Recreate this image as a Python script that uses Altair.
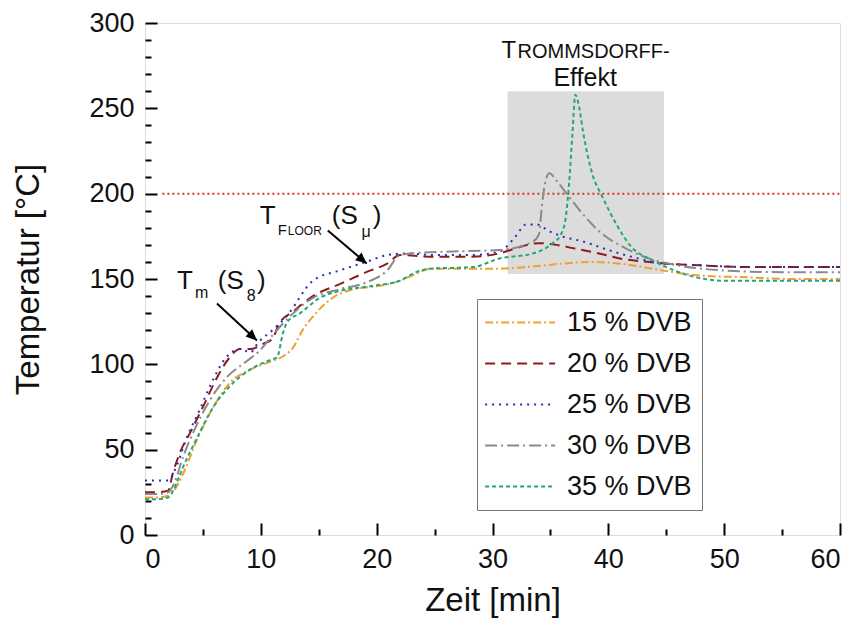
import altair as alt
import pandas as pd

FONT = "Liberation Sans"

series = ["15 % DVB", "20 % DVB", "25 % DVB", "30 % DVB", "35 % DVB"]
colors = ["#f0a032", "#8b1c1c", "#2b2bc0", "#8a8a8a", "#22a878"]
dashes = [[8, 3, 2, 3], [10, 6], [2, 5], [12, 4, 2, 4], [4, 3]]

t15 = [0, 1, 2, 2.5, 3.3, 4.5, 5.9, 7.3, 9.1, 11, 12, 12.8, 13.6, 14.5, 16.2, 18, 20.3, 22, 23.4, 24.6, 27, 30, 33, 36, 38.4, 41, 44.7, 48, 52, 56, 60]
T15 = [22, 22, 23, 26, 36, 56, 75, 89, 97, 102, 105, 110, 120, 128, 139, 144, 146, 149, 153, 156, 156, 156, 157, 159, 160, 159, 155, 152, 151, 150, 150]

t20 = [0, 1, 2, 2.4, 3, 3.9, 5, 6.2, 7.3, 8.2, 9.1, 10.2, 11, 11.6, 12.8, 14.5, 16.8, 19.1, 20.9, 22, 25, 28, 30.6, 32, 33, 34, 35.5, 37, 39.2, 41, 43.5, 45, 48, 52, 56, 60]
T20 = [25, 25, 26, 36, 48, 60, 75, 92, 104, 109, 109, 112, 115, 124, 131, 140, 147, 154, 159, 164, 163, 163, 165, 168, 170, 171, 170, 168, 165, 162, 160, 159, 158, 157, 157, 157]

t25 = [0, 1, 2, 2.7, 3.6, 4.7, 5.6, 7, 8.2, 9.1, 9.8, 11, 12.2, 14.5, 16.8, 19.1, 20.9, 22.6, 25, 28, 30.6, 32, 32.9, 33.8, 34.9, 36, 37.8, 40, 42, 45, 48, 52, 56, 60]
T25 = [32, 32, 32, 40, 57, 73, 87, 104, 109, 107, 113, 120, 128, 149, 155, 160, 164, 165, 164, 164, 166, 175, 182, 182, 178, 175, 172, 167, 163, 159, 158, 157, 157, 157]

t30 = [0, 1, 2, 2.5, 3.3, 4.5, 5.6, 7, 8.8, 9.9, 11, 12.5, 14.5, 16.8, 19.1, 20.9, 22, 23, 26, 30.6, 33.5, 34, 34.3, 34.6, 34.9, 35.6, 36.4, 37.8, 39.2, 41.5, 43.5, 46, 50, 55, 60]
T30 = [24, 24, 25, 30, 46, 65, 79, 92, 102, 108, 117, 128, 139, 144, 148, 155, 164, 165, 166, 167, 172, 176, 195, 208, 212, 207, 200, 188, 178, 168, 162, 158, 155, 154, 154]

t35 = [0, 1, 2, 2.5, 3.3, 4.5, 5.9, 7.3, 9.1, 11, 11.4, 11.9, 12.3, 13.4, 15.1, 16.8, 19.7, 22, 23.4, 24.6, 28.3, 30.6, 33.5, 35.2, 35.9, 36.3, 36.6, 36.9, 37.15, 37.5, 37.8, 38.6, 39.5, 40.7, 42.1, 43.5, 45, 47, 50, 55, 60]
T35 = [21, 21, 22, 27, 40, 57, 75, 87, 97, 103, 104, 118, 125, 130, 139, 143, 146, 149, 154, 156, 157, 162, 165, 171, 176, 185, 205, 235, 258, 250, 237, 212, 198, 182, 168, 162, 157, 152, 149, 149, 149]

all_t = [t15, t20, t25, t30, t35]
all_T = [T15, T20, T25, T30, T35]

# reference line and shaded region
ref_t = [1.5, 60]
ref_T = [200, 200]
box_t = [31.3, 44.8]
box_T = [153, 260]

# axis ticks
x_major = [0, 10, 20, 30, 40, 50, 60]
x_minor = [5, 15, 25, 35, 45, 55]
y_major = [0, 50, 100, 150, 200, 250, 300]
y_minor = [v for v in range(10, 300, 10) if v % 50 != 0]

# annotations (text pieces)
ann_text = ["T", "ROMMSDORFF-", "Effekt",
            "T", "F", "LOOR", "(S", "\u03bc", ")",
            "T", "m", "(S", "8", ")"]
ann_t = [30.78, 32.16, 38.0,
         9.91, 11.47, 12.33, 16.12, 18.7, 19.66,
         2.76, 4.31, 6.29, 8.79, 9.66]
ann_T = [279.5, 279.5, 263.2,
         182.5, 176.0, 176.0, 182.5, 174.9, 182.5,
         144.4, 138.6, 144.4, 137.4, 144.4]
ann_size = [24, 20, 25,
            26, 15, 12, 26, 16, 26,
            26, 16, 26, 16, 26]
ann_align = ["left", "left", "center",
             "left", "left", "left", "left", "left", "left",
             "left", "left", "left", "left", "left"]

# arrows
arr_t1 = [6.21, 15.78]
arr_T1 = [135.7, 178.4]
arr_t2 = [9.66, 19.14]
arr_T2 = [114.0, 159.1]
arr_angle = [133, 130]

rows = []
for name, ts, Ts in zip(series, all_t, all_T):
    for i, (a, b) in enumerate(zip(ts, Ts)):
        rows.append({"series": name, "t": a, "T": b, "order": i})
df = pd.DataFrame(rows)

xs = alt.Scale(domain=[0, 60], nice=False, zero=False)
ys = alt.Scale(domain=[0, 300], nice=False, zero=False)

W, H = 695, 512

main_x_axis = alt.Axis(values=x_major, ticks=False, domain=False, grid=False,
                       labelFontSize=27, labelFont=FONT, labelColor="#111",
                       labelPadding=11, title="Zeit [min]", titleFontSize=33,
                       titleFont=FONT, titleFontWeight="normal", titleColor="#111",
                       titlePadding=12, orient="bottom")
main_y_axis = alt.Axis(values=y_major, ticks=False, domain=False, grid=False,
                       labelFontSize=27, labelFont=FONT, labelColor="#111",
                       labelPadding=11, title="Temperatur [°C]", titleFontSize=33,
                       titleFont=FONT, titleFontWeight="normal", titleColor="#111",
                       titlePadding=43, orient="left")

def tick_axis_x(vals, size):
    return alt.Axis(values=vals, orient="top", offset=-H, tickSize=size, tickWidth=2,
                    tickColor="black", labels=False, domain=False, grid=False, title=None)

def tick_axis_y(vals, size):
    return alt.Axis(values=vals, orient="right", offset=-W, tickSize=size, tickWidth=2,
                    tickColor="black", labels=False, domain=False, grid=False, title=None)

box_df = pd.DataFrame({"t1": [box_t[0]], "t2": [box_t[1]], "T1": [box_T[0]], "T2": [box_T[1]]})
box = alt.Chart(box_df).mark_rect(color="#dcdcdc").encode(
    x=alt.X("t1:Q", scale=xs, axis=main_x_axis),
    x2="t2:Q",
    y=alt.Y("T1:Q", scale=ys, axis=main_y_axis),
    y2="T2:Q",
)

ref_df = pd.DataFrame({"t1": [ref_t[0]], "t2": [ref_t[1]], "T": [ref_T[0]]})
ref = alt.Chart(ref_df).mark_rule(color="#e0302c", strokeWidth=2, strokeDash=[2, 3]).encode(
    x=alt.X("t1:Q", scale=xs, axis=tick_axis_x(x_minor, 6)),
    x2="t2:Q",
    y=alt.Y("T:Q", scale=ys, axis=tick_axis_y(y_minor, 6)),
)

legend = alt.Legend(orient="none", legendX=332, legendY=276, title=None,
                    symbolType="M-2.2,0H7.8", symbolSize=196, symbolStrokeWidth=2,
                    labelFontSize=27, labelFont=FONT, labelColor="#111",
                    labelOffset=53, labelLimit=0, strokeColor="#777",
                    fillColor="white", padding=10, rowPadding=13)

lines = alt.Chart(df).mark_line(strokeWidth=2, interpolate="monotone").encode(
    x=alt.X("t:Q", scale=xs, axis=tick_axis_x(x_major, 12)),
    y=alt.Y("T:Q", scale=ys, axis=tick_axis_y(y_major, 12)),
    color=alt.Color("series:N", scale=alt.Scale(domain=series, range=colors), legend=legend),
    strokeDash=alt.StrokeDash("series:N", scale=alt.Scale(domain=series, range=dashes), legend=legend),
    order="order:Q",
)

ann_df = pd.DataFrame({"text": ann_text, "t": ann_t, "T": ann_T, "size": ann_size, "align": ann_align})
ann_left = alt.Chart(ann_df[ann_df["align"] == "left"]).mark_text(
    align="left", baseline="alphabetic", font=FONT, color="#111").encode(
    x=alt.X("t:Q", scale=xs, axis=None),
    y=alt.Y("T:Q", scale=ys, axis=None),
    text="text:N",
    size=alt.Size("size:Q", scale=None, legend=None),
)
ann_center = alt.Chart(ann_df[ann_df["align"] == "center"]).mark_text(
    align="center", baseline="alphabetic", font=FONT, color="#111").encode(
    x=alt.X("t:Q", scale=xs, axis=None),
    y=alt.Y("T:Q", scale=ys, axis=None),
    text="text:N",
    size=alt.Size("size:Q", scale=None, legend=None),
)

arr_df = pd.DataFrame({"t1": arr_t1, "T1": arr_T1, "t2": arr_t2, "T2": arr_T2, "angle": arr_angle})
arr_lines = alt.Chart(arr_df).mark_rule(color="black", strokeWidth=2).encode(
    x=alt.X("t1:Q", scale=xs, axis=None),
    y=alt.Y("T1:Q", scale=ys, axis=None),
    x2="t2:Q",
    y2="T2:Q",
)
arr_heads = alt.Chart(arr_df).mark_point(
    shape="M0,0L-0.45,1L0.45,1Z", filled=True, color="black", size=484, opacity=1).encode(
    x=alt.X("t2:Q", scale=xs, axis=None),
    y=alt.Y("T2:Q", scale=ys, axis=None),
    angle=alt.Angle("angle:Q", scale=None),
)

chart = alt.layer(box, ref, lines, ann_left, ann_center, arr_lines, arr_heads).resolve_axis(
    x="independent", y="independent"
).properties(
    width=W, height=H,
    padding={"left": 137, "top": 15, "right": 4, "bottom": 87},
    autosize="none",
).configure_view(stroke="black", strokeWidth=2).configure(background="white")

chart.save("out.html", embed_options={"renderer": "svg", "actions": False})
